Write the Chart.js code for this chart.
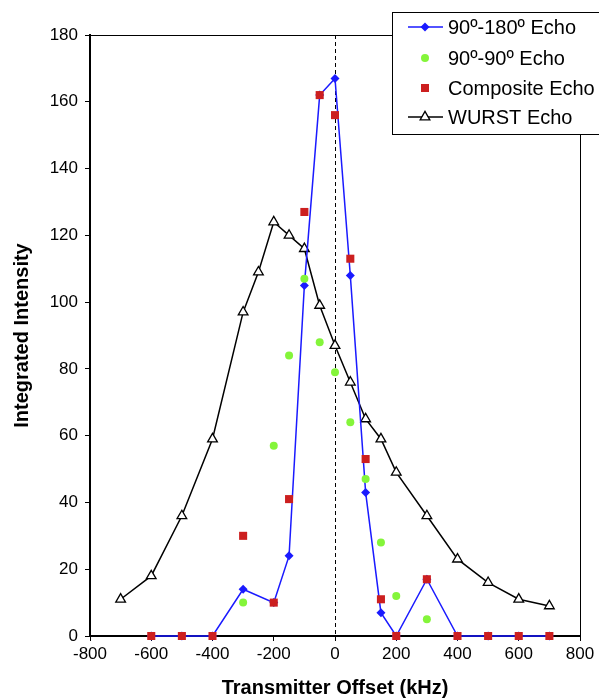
<!DOCTYPE html>
<html>
<head>
<meta charset="utf-8">
<title>Integrated Intensity vs Transmitter Offset</title>
<script src="https://cdn.jsdelivr.net/npm/chart.js"></script>
<style>
  html, body { margin: 0; padding: 0; background: #ffffff; }
  canvas { display: block; }
</style>
</head>
<body>
<canvas id="echoChart" width="599" height="699"></canvas>
<script>
'use strict';

// offsets in kHz
let echoOffsets = [-600, -500, -400, -300, -200, -150, -100, -50, 0, 50, 100, 150, 200, 300, 400, 500, 600, 700];
let wurstOffsets = [-700, -600, -500, -400, -300, -250, -200, -150, -100, -50, 0, 50, 100, 150, 200, 300, 400, 500, 600, 700];
let greenOffsets = [-300, -200, -150, -100, -50, 0, 50, 100, 150, 200, 300];

// integrated intensities
let echo180 = [0, 0, 0, 14, 10, 24, 105, 162, 167, 108, 43, 7, 0, 17, 0, 0, 0, 0];
let echo90 = [10, 57, 84, 107, 88, 79, 64, 47, 28, 12, 5];
let compositeEcho = [0, 0, 0, 30, 10, 41, 127, 162, 156, 113, 53, 11, 0, 17, 0, 0, 0, 0];
let wurstEcho = [11, 18, 36, 59, 97, 109, 124, 120, 116, 99, 87, 76, 65, 59, 49, 36, 23, 16, 11, 9];

let xTicks = [-800, -600, -400, -200, 0, 200, 400, 600, 800];
let yTicks = [0, 20, 40, 60, 80, 100, 120, 140, 160, 180];

let fontName = "'Liberation Sans', Arial, sans-serif";

function toPoints(xs, ys) {
  let points = [];
  for (let i = 0; i < xs.length; i++) {
    points.push({ x: xs[i], y: ys[i] });
  }
  return points;
}

// dashed line at zero offset + box around the plot
let framePlugin = {
  id: 'frame',
  beforeDatasetsDraw(chart) {
    let ctx = chart.ctx;
    let area = chart.chartArea;
    let zeroX = Math.round(chart.scales.x.getPixelForValue(0)) + 0.5;
    ctx.save();
    ctx.strokeStyle = '#000000';
    ctx.lineWidth = 1;
    ctx.setLineDash([4, 3]);
    ctx.beginPath();
    ctx.moveTo(zeroX, area.top);
    ctx.lineTo(zeroX, area.bottom);
    ctx.stroke();
    ctx.setLineDash([]);
    ctx.strokeRect(Math.round(area.left) + 0.5, Math.round(area.top) + 0.5,
      Math.round(area.right - area.left), Math.round(area.bottom - area.top));
    ctx.restore();
  }
};

// legend box sits over the top right corner, like the original
let legendPlugin = {
  id: 'boxLegend',
  afterDraw(chart) {
    let ctx = chart.ctx;
    let boxLeft = 392;
    let boxTop = 12;
    let rowY = [27, 58, 88, 117];
    ctx.save();
    ctx.fillStyle = '#ffffff';
    ctx.fillRect(boxLeft, boxTop, 230, 122);
    ctx.strokeStyle = '#000000';
    ctx.lineWidth = 1;
    ctx.strokeRect(boxLeft + 0.5, boxTop + 0.5, 230, 122);

    let datasets = chart.data.datasets;
    for (let i = 0; i < datasets.length; i++) {
      let ds = datasets[i];
      let y = rowY[i];
      if (ds.showLine) {
        ctx.strokeStyle = ds.borderColor;
        ctx.lineWidth = ds.borderWidth;
        ctx.beginPath();
        ctx.moveTo(408, y);
        ctx.lineTo(443, y);
        ctx.stroke();
      }
      ctx.fillStyle = ds.pointBackgroundColor;
      ctx.strokeStyle = ds.pointBorderColor;
      ctx.lineWidth = ds.pointBorderWidth;
      Chart.helpers.drawPoint(ctx, {
        pointStyle: ds.pointStyle,
        radius: ds.pointRadius,
        rotation: 0,
        borderWidth: ds.pointBorderWidth
      }, 425, y);
      ctx.fillStyle = '#000000';
      ctx.font = '20px ' + fontName;
      ctx.textBaseline = 'middle';
      ctx.textAlign = 'left';
      ctx.fillText(ds.label, 448, y + 1);
    }
    ctx.restore();
  }
};

function renderChart() {
  const ctx = document.getElementById('echoChart');

  let config = {
    type: 'scatter',
    data: {
      datasets: [
        {
          label: '90º-180º Echo',
          data: toPoints(echoOffsets, echo180),
          showLine: true,
          clip: false,
          borderColor: '#1a1aff',
          borderWidth: 1.5,
          pointStyle: 'rectRot',
          pointRadius: 4.5,
          pointBackgroundColor: '#1a1aff',
          pointBorderColor: '#1a1aff',
          pointBorderWidth: 0,
          order: 3
        },
        {
          label: '90º-90º Echo',
          data: toPoints(greenOffsets, echo90),
          showLine: false,
          clip: false,
          pointStyle: 'circle',
          pointRadius: 4,
          pointBackgroundColor: '#84f53a',
          pointBorderColor: '#84f53a',
          pointBorderWidth: 0,
          order: 2
        },
        {
          label: 'Composite Echo',
          data: toPoints(echoOffsets, compositeEcho),
          showLine: false,
          clip: false,
          pointStyle: 'rect',
          pointRadius: 5.7,
          pointBackgroundColor: '#cc1f1f',
          pointBorderColor: '#cc1f1f',
          pointBorderWidth: 0,
          order: 1
        },
        {
          label: 'WURST Echo',
          data: toPoints(wurstOffsets, wurstEcho),
          showLine: true,
          clip: false,
          borderColor: '#000000',
          borderWidth: 1.5,
          pointStyle: 'triangle',
          pointRadius: 5.6,
          pointBackgroundColor: '#ffffff',
          pointBorderColor: '#000000',
          pointBorderWidth: 1.3,
          order: 4
        }
      ]
    },
    options: {
      responsive: false,
      animation: false,
      layout: {
        padding: { top: 35, right: 19, left: 0, bottom: 0 }
      },
      elements: {
        line: { tension: 0 }
      },
      plugins: {
        legend: { display: false },
        tooltip: { enabled: false }
      },
      scales: {
        x: {
          type: 'linear',
          min: -800,
          max: 800,
          afterBuildTicks(scale) {
            scale.ticks = xTicks.map(v => ({ value: v }));
          },
          afterFit(scale) {
            scale.height = 63;
          },
          grid: { drawOnChartArea: false, tickLength: 5, color: '#000000', tickWidth: 1 },
          border: { color: '#000000', width: 2 },
          ticks: {
            autoSkip: false,
            maxRotation: 0,
            padding: 3,
            color: '#000000',
            font: { family: fontName, size: 17 }
          },
          title: {
            display: true,
            text: 'Transmitter Offset (kHz)',
            color: '#000000',
            padding: { top: 0, bottom: 0 },
            font: { family: fontName, size: 20, weight: 'bold', lineHeight: 1.1 }
          }
        },
        y: {
          type: 'linear',
          min: 0,
          max: 180,
          afterBuildTicks(scale) {
            scale.ticks = yTicks.map(v => ({ value: v }));
          },
          afterFit(scale) {
            scale.width = 90;
          },
          grid: { drawOnChartArea: false, tickLength: 5, color: '#000000', tickWidth: 1 },
          border: { color: '#000000', width: 2 },
          ticks: {
            padding: 7,
            color: '#000000',
            font: { family: fontName, size: 17 }
          },
          title: {
            display: true,
            text: 'Integrated Intensity',
            color: '#000000',
            padding: { top: 11, bottom: 0 },
            font: { family: fontName, size: 20, weight: 'bold', lineHeight: 1.1 }
          }
        }
      }
    },
    plugins: [framePlugin, legendPlugin]
  };
  let echoChart = new Chart(ctx, config);
}

renderChart();
</script>
</body>
</html>
